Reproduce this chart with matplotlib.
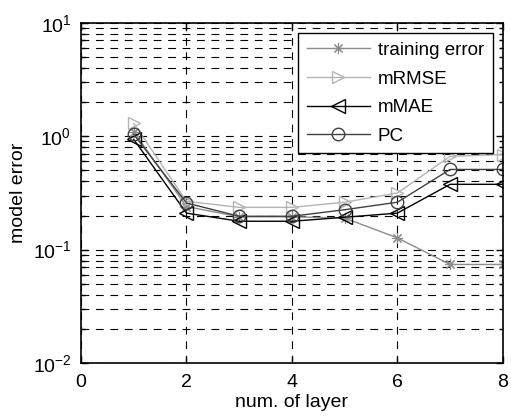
import matplotlib
matplotlib.use("Agg")
import matplotlib.pyplot as plt
from matplotlib.ticker import LogLocator, FixedLocator, NullFormatter

plt.rcParams['font.family'] = ['Liberation Sans', 'DejaVu Sans']
plt.rcParams['mathtext.default'] = 'regular'

layers = [1, 2, 3, 4, 5, 6, 7, 8]
training_error = [1.10, 0.24, 0.195, 0.195, 0.19, 0.127, 0.074, 0.074]
mrmse = [1.30, 0.267, 0.236, 0.236, 0.262, 0.316, 0.665, 0.69]
mmae = [0.94, 0.21, 0.178, 0.178, 0.193, 0.21, 0.377, 0.377]
pc = [1.04, 0.258, 0.197, 0.197, 0.225, 0.262, 0.51, 0.51]

fig = plt.figure(figsize=(5.11, 4.17), dpi=100)
ax = fig.add_axes([0.1585, 0.1295, 0.8255, 0.8155])

ax.plot(layers, training_error, color='#8c8c8c', marker=(8, 2, 0), markersize=8,
        markerfacecolor='none', markeredgewidth=0.8, lw=1.0, label='training error')
ax.plot(layers, mrmse, color='#b4b4b4', marker='>', markersize=9,
        markerfacecolor='none', lw=1.0, label='mRMSE')
ax.plot(layers, mmae, color='black', marker='<', markersize=10,
        markerfacecolor='none', lw=1.0, label='mMAE')
ax.plot(layers, pc, color='#404040', marker='o', markersize=9,
        markerfacecolor='none', lw=1.0, label='PC')

ax.set_yscale('log')
ax.set_ylim(1e-2, 1e1)
ax.set_xlim(0, 8)
ax.xaxis.set_major_locator(FixedLocator([0, 2, 4, 6, 8]))
ax.yaxis.set_major_locator(LogLocator(base=10, numticks=10))
ax.yaxis.set_minor_locator(LogLocator(base=10, subs=range(2, 10), numticks=20))
ax.yaxis.set_minor_formatter(NullFormatter())

ax.grid(True, which='major', axis='both', color='black', linestyle=(0, (7, 6)), lw=0.8)
ax.grid(True, which='minor', axis='y', color='black', linestyle=(0, (7, 6)), lw=0.8)

ax.tick_params(which='both', direction='in', top=True, right=True, labelsize=14, width=1)
ax.tick_params(which='major', length=5)
ax.tick_params(axis='x', which='major', pad=8)
ax.tick_params(axis='y', which='major', pad=7)
ax.tick_params(which='minor', length=3)
for s in ax.spines.values():
    s.set_linewidth(1.2)

ax.set_xlabel('num. of layer', fontsize=14, labelpad=2)
ax.set_ylabel('model error', fontsize=14, labelpad=4)

leg = ax.legend(loc='upper right', fontsize=13.5, frameon=True, fancybox=False,
                edgecolor='black', framealpha=1, borderaxespad=0.55,
                handlelength=3.4, handletextpad=0.4, labelspacing=0.62,
                borderpad=0.45)
leg.get_frame().set_linewidth(1.0)

fig.savefig('out.png', dpi=100)
